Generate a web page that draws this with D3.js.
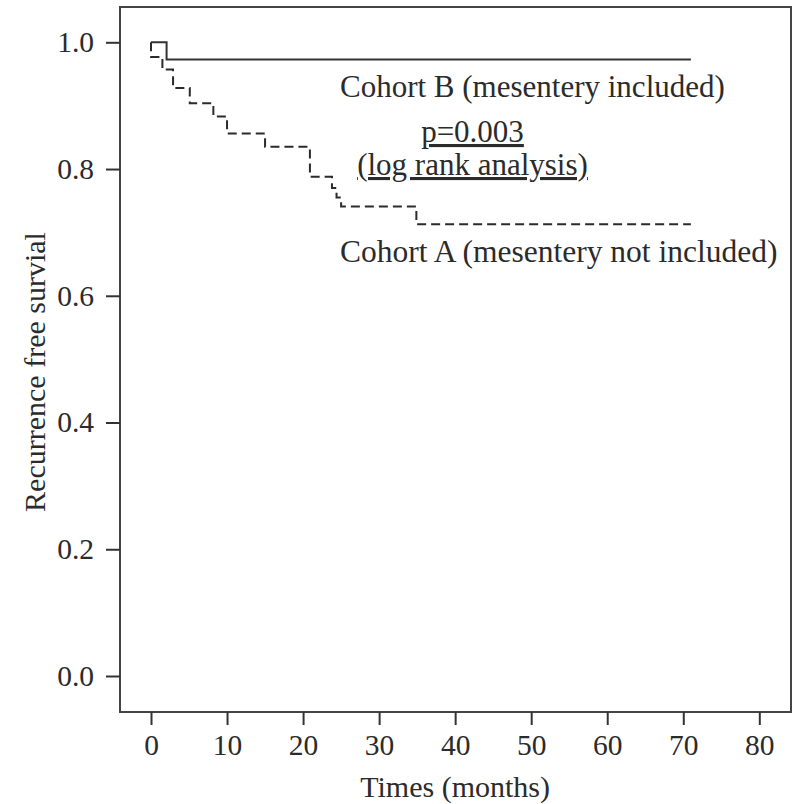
<!DOCTYPE html>
<html>
<head>
<meta charset="utf-8">
<script src="https://cdn.jsdelivr.net/npm/d3@7"></script>
<style>
  html, body { margin: 0; padding: 0; background: #fff; }
  svg { display: block; }
  text { font-family: "Liberation Serif", "Times New Roman", serif; fill: #2b2b2b; }
</style>
</head>
<body>
<div id="chart"></div>
<script>
// ---- data ----
const xTicks = [0, 10, 20, 30, 40, 50, 60, 70, 80];
const yTicks = [0.0, 0.2, 0.4, 0.6, 0.8, 1.0];

const cohortBTimes = [0, 2.05, 71];
const cohortBSurv  = [1.0, 0.973, 0.973];

const cohortATimes = [0, 0, 1.5, 2.9, 5.1, 8.2, 10.0, 15.0, 20.9, 23.8, 24.4, 25.0, 34.9, 71];
const cohortASurv  = [1.0, 0.977, 0.957, 0.928, 0.904, 0.883, 0.856, 0.835, 0.788, 0.770, 0.755, 0.741, 0.713, 0.713];

const labelB = "Cohort B (mesentery included)";
const labelA = "Cohort A (mesentery not included)";
const pText = "p=0.003";
const testText = "(log rank analysis)";
const xTitle = "Times (months)";
const yTitle = "Recurrence free survial";

// ---- layout ----
const W = 793, H = 804;
const frame = { left: 120, top: 7, right: 791, bottom: 712 };

const x = d3.scaleLinear().domain([0, 80]).range([151, 759.3]);
const y = d3.scaleLinear().domain([0, 1]).range([676, 42.3]);

const svg = d3.select("#chart").append("svg")
  .attr("width", W).attr("height", H);

// frame
svg.append("rect")
  .attr("x", frame.left).attr("y", frame.top)
  .attr("width", frame.right - frame.left)
  .attr("height", frame.bottom - frame.top)
  .attr("fill", "none").attr("stroke", "#444").attr("stroke-width", 2);

// axes
const yAxis = d3.axisLeft(y).tickValues(yTicks).tickFormat(d3.format(".1f"))
  .tickSize(14).tickPadding(12);
const gy = svg.append("g").attr("transform", `translate(${frame.left},0)`).call(yAxis);

const xAxis = d3.axisBottom(x).tickValues(xTicks).tickFormat(d3.format("d"))
  .tickSize(13).tickPadding(9);
const gx = svg.append("g").attr("transform", `translate(0,${frame.bottom})`).call(xAxis);

[gx, gy].forEach(g => {
  g.select(".domain").remove();
  g.selectAll(".tick line").attr("stroke", "#333").attr("stroke-width", 2);
  g.selectAll(".tick text").attr("font-size", 29.5).attr("fill", "#2b2b2b")
    .attr("font-family", '"Liberation Serif", serif');
});

// survival curves
const stepLine = d3.line()
  .x(d => x(d[0])).y(d => y(d[1]))
  .curve(d3.curveStepAfter);

const dataB = cohortBTimes.map((t, i) => [t, cohortBSurv[i]]);
const dataA = cohortATimes.map((t, i) => [t, cohortASurv[i]]);

svg.append("path").datum(dataA)
  .attr("d", stepLine).attr("fill", "none")
  .attr("stroke", "#2b2b2b").attr("stroke-width", 2)
  .attr("stroke-dasharray", "9,5");

svg.append("path").datum(dataB)
  .attr("d", stepLine).attr("fill", "none")
  .attr("stroke", "#333").attr("stroke-width", 2);

// annotations
svg.append("text").attr("x", 340).attr("y", 97)
  .attr("font-size", 31).text(labelB);

svg.append("text").attr("x", 472.5).attr("y", 142)
  .attr("font-size", 31).attr("text-anchor", "middle")
  .attr("text-decoration", "underline").text(pText);

svg.append("text").attr("x", 472.5).attr("y", 175)
  .attr("font-size", 31).attr("text-anchor", "middle")
  .attr("text-decoration", "underline").text(testText);

svg.append("text").attr("x", 340).attr("y", 262)
  .attr("font-size", 31.5).text(labelA);

// axis titles
svg.append("text")
  .attr("x", (x(0) + x(80)) / 2).attr("y", 797)
  .attr("text-anchor", "middle").attr("font-size", 30).text(xTitle);

svg.append("text")
  .attr("transform", "translate(45,372) rotate(-90)")
  .attr("text-anchor", "middle").attr("font-size", 30).text(yTitle);
</script>
</body>
</html>
